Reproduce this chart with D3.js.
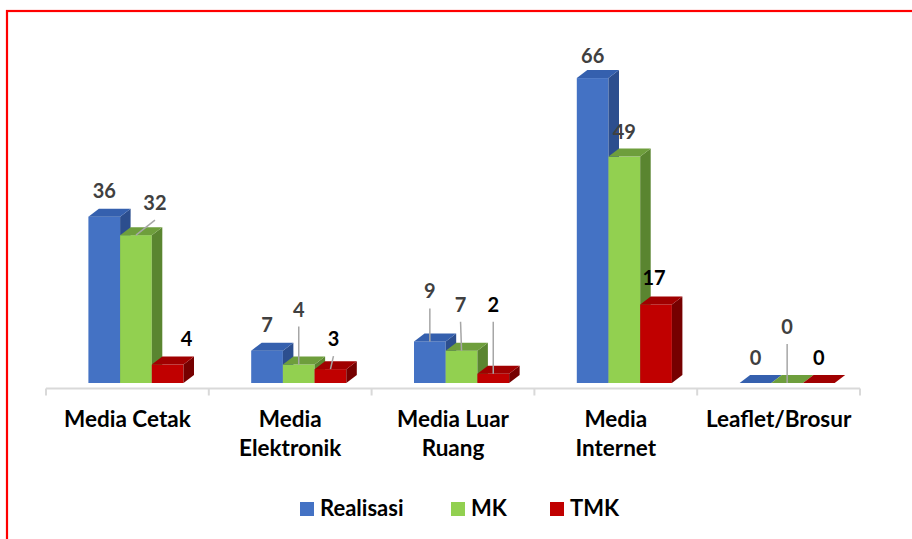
<!DOCTYPE html>
<html>
<head>
<meta charset="utf-8">
<script src="https://cdn.jsdelivr.net/npm/d3@7"></script>
<style>
  html, body { margin: 0; padding: 0; background: #fff; }
  svg { display: block; }
  text { font-family: Lato, "Open Sans", sans-serif; font-weight: 700; }
</style>
</head>
<body>
<svg id="chart" width="912" height="539"></svg>
<script>
// ---- data ----
const categories = [
  ["Media Cetak"],
  ["Media", "Elektronik"],
  ["Media Luar", "Ruang"],
  ["Media", "Internet"],
  ["Leaflet/Brosur"]
];
const seriesNames = ["Realisasi", "MK", "TMK"];
const realisasi = [36, 7, 9, 66, 0];
const mk = [32, 4, 7, 49, 0];
const tmk = [4, 3, 2, 17, 0];

// ---- styling ----
const palette = [
  { front: "#4472C4", top: "#3560AE", side: "#2C4E8E" },
  { front: "#92D050", top: "#6E9E3C", side: "#5A8530" },
  { front: "#C00000", top: "#A00000", side: "#760000" }
];
const labelColor = ["#404040", "#404040", "#000000"];
// label nudges [dx, dy] per series and category (moved labels get a leader line)
const labelNudge = [
  [[0, 0], [0, 0], [0, -24], [0, 4], [0, 1]],
  [[19, -6], [0, -29], [-1, -20], [0, 1], [0, -30]],
  [[19, 0], [3, -4], [0, -43], [-2, 0], [0, 1]]
];

const svg = d3.select("#chart");

// outer frame
svg.append("rect")
  .attr("x", 7).attr("y", 11)
  .attr("width", 940).attr("height", 600)
  .attr("fill", "none").attr("stroke", "#FF0000").attr("stroke-width", 2.2);

const axisLeft = 46, axisRight = 860, axisY = 388.5;
const x = d3.scaleBand().domain(d3.range(categories.length)).range([axisLeft, axisRight]);
const y = d3.scaleLinear().domain([0, 70]).range([383, 383 - 4.62 * 70]);

const barW = 31.7, depthX = 10.5, depthY = -8;
const groupOffset = -39 + x.bandwidth() / 2; // front face start relative to band start

const series = [realisasi, mk, tmk];

// category axis
const axisG = svg.append("g");
axisG.append("line")
  .attr("x1", axisLeft).attr("x2", axisRight)
  .attr("y1", axisY).attr("y2", axisY)
  .attr("stroke", "#D9D9D9").attr("stroke-width", 2);
const tickXs = categories.map((c, i) => x(i)).concat([axisRight]);
axisG.selectAll("line.tick").data(tickXs).enter().append("line")
  .attr("class", "tick")
  .attr("x1", d => d).attr("x2", d => d)
  .attr("y1", axisY).attr("y2", axisY + 7)
  .attr("stroke", "#D9D9D9").attr("stroke-width", 2);

// category labels
const catG = svg.append("g");
categories.forEach((lines, i) => {
  const t = catG.append("text")
    .attr("x", x(i) + x.bandwidth() / 2)
    .attr("y", 427)
    .attr("text-anchor", "middle")
    .attr("font-size", 22.5)
    .attr("fill", "#000");
  lines.forEach((ln, k) => {
    t.append("tspan")
      .attr("x", x(i) + x.bandwidth() / 2)
      .attr("dy", k === 0 ? 0 : 28.5)
      .text(ln);
  });
});

// 3D bars
const barsG = svg.append("g");
categories.forEach((c, i) => {
  series.forEach((vals, s) => {
    const v = vals[i];
    const x0 = x(i) + groupOffset + s * barW;
    const x1 = x0 + barW;
    const yTop = y(v), yBase = y(0);
    const col = palette[s];
    const g = barsG.append("g");
    if (yBase - yTop > 0) {
      g.append("rect")
        .attr("x", x0).attr("y", yTop)
        .attr("width", barW).attr("height", yBase - yTop)
        .attr("fill", col.front);
      g.append("path")
        .attr("d", `M${x1},${yTop} L${x1 + depthX},${yTop + depthY} L${x1 + depthX},${yBase + depthY} L${x1},${yBase} Z`)
        .attr("fill", col.side);
    }
    g.append("path")
      .attr("d", `M${x0},${yTop} L${x0 + depthX},${yTop + depthY} L${x1 + depthX},${yTop + depthY} L${x1},${yTop} Z`)
      .attr("fill", col.top);
  });
});

// value labels with leader lines
const labG = svg.append("g");
categories.forEach((c, i) => {
  series.forEach((vals, s) => {
    const v = vals[i];
    const cx = x(i) + groupOffset + s * barW + barW / 2;
    const [dx, dy] = labelNudge[s][i];
    const lx = cx + dx;
    const ly = y(v) - 19 + dy;
    if (dy <= -4) {
      labG.append("line")
        .attr("x1", lx).attr("y1", ly + 10)
        .attr("x2", cx).attr("y2", y(v))
        .attr("stroke", "#A6A6A6").attr("stroke-width", 1.5);
    }
    labG.append("text")
      .attr("x", lx).attr("y", ly)
      .attr("text-anchor", "middle")
      .attr("font-size", 20)
      .attr("fill", labelColor[s])
      .text(v);
  });
});

// legend
const legendItems = [
  { name: seriesNames[0], x: 300 },
  { name: seriesNames[1], x: 451 },
  { name: seriesNames[2], x: 550 }
];
const legG = svg.append("g");
legendItems.forEach((d, s) => {
  legG.append("rect")
    .attr("x", d.x).attr("y", 502)
    .attr("width", 14).attr("height", 14)
    .attr("fill", palette[s].front);
  legG.append("text")
    .attr("x", d.x + 20).attr("y", 516)
    .attr("font-size", 22)
    .attr("fill", "#000")
    .text(d.name);
});
</script>
</body>
</html>
